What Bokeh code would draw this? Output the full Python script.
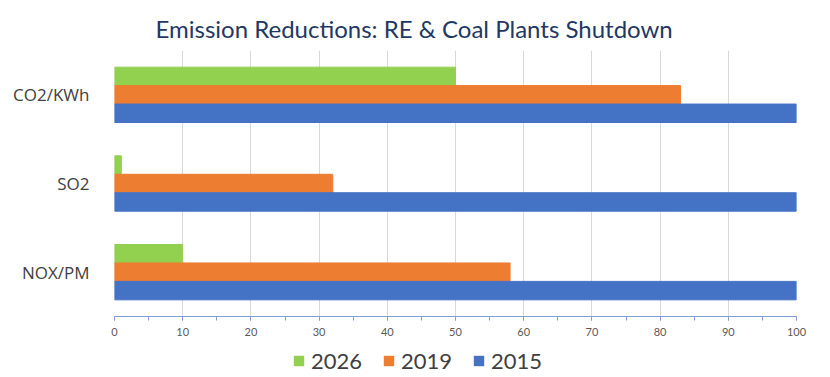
from bokeh.plotting import figure
from bokeh.models import (ColumnDataSource, FactorRange, FixedTicker, Legend, LegendItem)
from bokeh.transform import dodge
from bokeh.layouts import column
from bokeh.embed import file_html
from bokeh.resources import INLINE

categories = ["NOX/PM", "SO2", "CO2/KWh"]
years = ["2026", "2019", "2015"]
v2026 = [10, 1, 50]
v2019 = [58, 32, 83]
v2015 = [100, 100, 100]
colors = {"2026": "#92D050", "2019": "#ED7D31", "2015": "#4472C4"}
x_ticks = list(range(0, 101, 10))
x_minor = list(range(0, 101, 5))

source = ColumnDataSource(data=dict(cat=categories, y2026=v2026, y2019=v2019, y2015=v2015))

p = figure(width=830, height=342, y_range=FactorRange(factors=categories),
           x_range=(0, 100), output_backend="svg", toolbar_location=None,
           min_border_left=114, min_border_right=34, min_border_top=50,
           min_border_bottom=26)
p.title.text = "Emission Reductions: RE & Coal Plants Shutdown"
p.title.align = "left"
p.title.text_font = "Lato"
p.title.text_font_style = "normal"
p.title.text_font_size = "24px"
p.title.text_color = "#1F3864"
p.title.offset = 41
p.title.standoff = 15

bh = 0.208
r1 = p.hbar(y=dodge("cat", 0.208, range=p.y_range), right="y2026", left=0, height=bh,
            source=source, color=colors["2026"])
r2 = p.hbar(y=dodge("cat", 0.0, range=p.y_range), right="y2019", left=0, height=bh,
            source=source, color=colors["2019"])
r3 = p.hbar(y=dodge("cat", -0.208, range=p.y_range), right="y2015", left=0, height=bh,
            source=source, color=colors["2015"])

p.outline_line_color = None
p.ygrid.grid_line_color = None
p.xgrid.grid_line_color = "#D9D9D9"
p.xgrid.grid_line_width = 1

p.xaxis.ticker = FixedTicker(ticks=x_ticks, minor_ticks=x_minor)
p.xaxis.axis_line_color = "#7F9FDA"
p.xaxis.major_tick_line_color = "#7F9FDA"
p.xaxis.minor_tick_line_color = "#7F9FDA"
p.xaxis.major_tick_out = 4
p.xaxis.major_tick_in = 0
p.xaxis.minor_tick_out = 4
p.xaxis.minor_tick_in = 0
p.xaxis.major_label_text_font = "Lato"
p.xaxis.major_label_text_font_size = "11px"
p.xaxis.major_label_text_color = "#595959"
p.xaxis.major_label_standoff = 7

p.yaxis.axis_line_color = None
p.yaxis.major_tick_line_color = None
p.yaxis.minor_tick_line_color = None
p.yaxis.major_label_text_font = "Open Sans"
p.yaxis.major_label_text_font_size = "17px"
p.yaxis.major_label_text_color = "#404040"
p.yaxis.major_label_standoff = 19

# legend strip below the chart: its bars are degenerate (zero width and height)
# and shifted outside its frame, so only the legend shows
leg = figure(width=830, height=35, x_range=(0, 100), y_range=FactorRange(factors=categories),
             output_backend="svg", toolbar_location=None,
             x_axis_location=None, y_axis_location=None,
             min_border_left=114, min_border_right=34, min_border_top=0, min_border_bottom=0)
leg.grid.grid_line_color = None
leg.outline_line_color = None
e1 = leg.hbar(y=dodge("cat", 20, range=leg.y_range), right="y2026", left="y2026", height=0,
              source=source, fill_color=colors["2026"], line_color=None)
e2 = leg.hbar(y=dodge("cat", 20, range=leg.y_range), right="y2019", left="y2019", height=0,
              source=source, fill_color=colors["2019"], line_color=None)
e3 = leg.hbar(y=dodge("cat", 20, range=leg.y_range), right="y2015", left="y2015", height=0,
              source=source, fill_color=colors["2015"], line_color=None)

legend = Legend(items=[LegendItem(label=years[0], renderers=[e1]),
                       LegendItem(label=years[1], renderers=[e2]),
                       LegendItem(label=years[2], renderers=[e3])],
                orientation="horizontal", location=(178, 3),
                glyph_width=13, glyph_height=13, label_standoff=6, spacing=20,
                label_text_font="Lato", label_text_font_size="22px",
                label_text_color="#404040", border_line_color=None,
                background_fill_alpha=0, padding=0, margin=0)
leg.add_layout(legend)

layout = column(p, leg, spacing=0)
open("out.html", "w").write(file_html(layout, INLINE))
